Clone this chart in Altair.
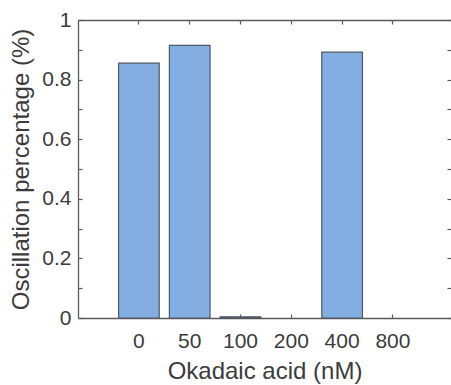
import altair as alt
import pandas as pd

# ---- data ----
concentrations = ["0", "50", "100", "200", "400", "800"]
oscillation = [0.855, 0.915, 0.004, 0.0, 0.892, 0.0]
y_tick_values = [0, 0.1, 0.2, 0.3, 0.4, 0.5, 0.6, 0.7, 0.8, 0.9, 1.0]

df = pd.DataFrame({"conc": concentrations, "osc": oscillation})

FONT = "Liberation Sans"
AXIS_COLOR = "#5a5a5a"
TEXT_COLOR = "#3c3c3c"
W, H = 373, 298
TICK = 4

x_scale = alt.Scale(domain=concentrations, paddingInner=0.2, paddingOuter=0.771, align=0.518)
y_scale = alt.Scale(domain=[0, 1], nice=False, zero=True)

base = alt.Chart(df)

# labelled axes (left / bottom), no ticks
bars = base.mark_bar(fill="#82aee2", stroke="#4e5866", strokeWidth=1.2).encode(
    x=alt.X(
        "conc:N",
        sort=concentrations,
        scale=x_scale,
        axis=alt.Axis(orient="bottom", title="Okadaic acid (nM)", labelAngle=0, ticks=False,
                      labelPadding=12, titlePadding=8, grid=False),
    ),
    y=alt.Y(
        "osc:Q",
        scale=y_scale,
        axis=alt.Axis(orient="left", title="Oscillation percentage (%)", values=y_tick_values,
                      labelExpr="round(datum.value*10) % 2 == 0 ? format(datum.value, '~g') : ''",
                      ticks=False, labelPadding=7, titlePadding=8, grid=False),
    ),
).transform_filter("datum.osc > 0")

# top border with inward ticks, and inward ticks along the right edge
frame_a = base.mark_bar(opacity=0).encode(
    x=alt.X("conc:N", sort=concentrations, scale=x_scale, title=None,
            axis=alt.Axis(orient="bottom", offset=-H, labels=False, tickSize=TICK, grid=False)),
    y=alt.Y("osc:Q", scale=y_scale, title=None,
            axis=alt.Axis(orient="left", offset=-W, labels=False, domain=False,
                          values=y_tick_values, tickSize=TICK, grid=False)),
)

# inward ticks along the bottom and the left edge
frame_b = base.mark_bar(opacity=0).encode(
    x=alt.X("conc:N", sort=concentrations, scale=x_scale, title=None,
            axis=alt.Axis(orient="top", offset=-H, labels=False, domain=False,
                          tickSize=TICK, grid=False)),
    y=alt.Y("osc:Q", scale=y_scale, title=None,
            axis=alt.Axis(orient="right", offset=-W, labels=False, domain=False,
                          values=y_tick_values, tickSize=TICK, grid=False)),
)

chart = (
    alt.layer(bars, frame_a, frame_b)
    .resolve_axis(x="independent", y="independent")
    .properties(width=W, height=H, padding={"left": 78, "top": 20, "right": 0, "bottom": 67},
                autosize=alt.AutoSizeParams(type="none"))
    .configure_view(strokeWidth=0)
    .configure_axis(labelFont=FONT, titleFont=FONT, labelFontSize=21, titleFontSize=24,
                    titleFontWeight="normal", labelColor=TEXT_COLOR, titleColor=TEXT_COLOR,
                    domainColor=AXIS_COLOR, tickColor=AXIS_COLOR, domainWidth=1.3, tickWidth=1.2)
)

chart.save("out.html", embed_options={"renderer": "svg", "actions": False})
